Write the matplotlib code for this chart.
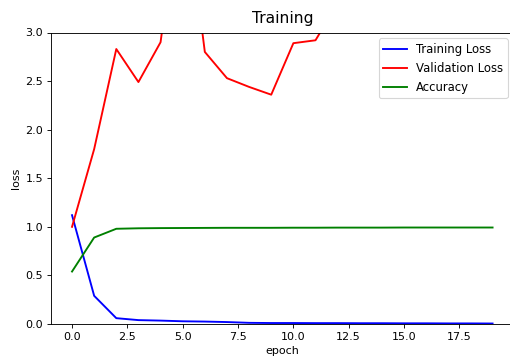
import matplotlib
matplotlib.use("Agg")
import matplotlib.pyplot as plt

epochs = list(range(20))
train_loss = [1.12, 0.29, 0.06, 0.04, 0.035, 0.028, 0.025, 0.02, 0.012, 0.01,
              0.01, 0.009, 0.009, 0.008, 0.008, 0.007, 0.007, 0.006, 0.006, 0.005]
val_loss = [1.00, 1.80, 2.83, 2.49, 2.90, 4.6, 2.80, 2.53, 2.44, 2.36,
            2.89, 2.92, 3.3, 3.4, 3.5, 3.5, 3.6, 3.6, 3.7, 3.7]
accuracy = [0.54, 0.89, 0.98, 0.985, 0.987, 0.988, 0.989, 0.99, 0.99, 0.99,
            0.991, 0.991, 0.992, 0.992, 0.992, 0.993, 0.993, 0.993, 0.993, 0.993]

W, H = 510, 363
fig = plt.figure(figsize=(W / 80, H / 80), dpi=80)
# axes runs a little past the right edge, as in the cropped original
ax = fig.add_axes([51 / W, 1 - 324 / H, (513.6 - 51) / W, (324 - 32.5) / H])

ax.plot(epochs, train_loss, color='blue', lw=1.7, label='Training Loss')
ax.plot(epochs, val_loss, color='red', lw=1.7, label='Validation Loss')
ax.plot(epochs, accuracy, color='green', lw=1.7, label='Accuracy')

ax.set_ylim(0, 3.0)
ax.set_title('Training', fontsize=14, pad=9)
ax.set_xlabel('epoch')
ax.set_ylabel('loss')
ax.spines['right'].set_visible(False)
ax.legend(loc='upper right', fontsize=10.5)

fig.savefig('out.png', dpi=80)
